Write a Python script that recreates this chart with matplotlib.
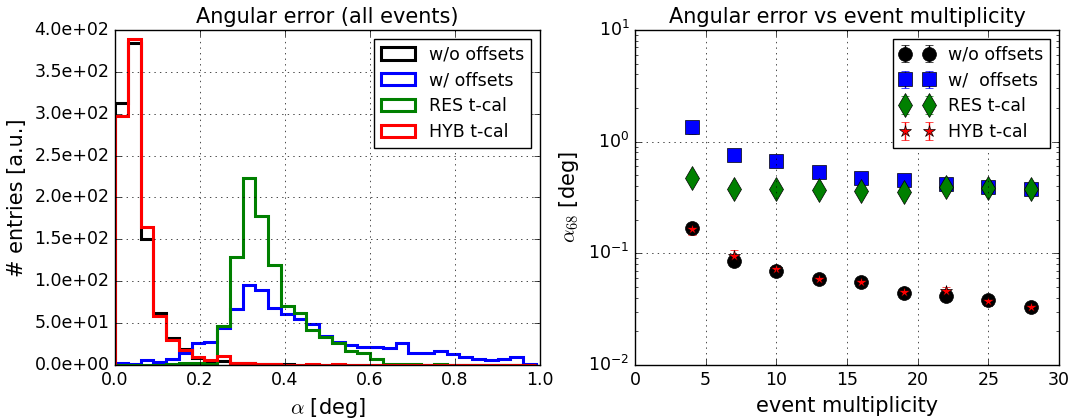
import numpy as np
import matplotlib
matplotlib.use("Agg")
import matplotlib.pyplot as plt
from matplotlib.ticker import FormatStrFormatter

plt.style.use("classic")

# ---------------- data: left histogram ----------------
bin_edges = [round(0.03 * i, 2) for i in range(34)]  # 0.00 ... 0.99
wo_offsets = [313, 385, 150, 62, 32, 19, 8, 5, 5, 2.5, 2, 1, 1, 1, 0.5, 0.5, 0.5,
              0.5, 0.5, 0.5, 0.5, 0.5, 0.5, 0.5, 0.5, 0.5, 0.5, 0.5, 0.5, 0.5, 0.5, 0.5, 0.5]
w_offsets = [2, 1.2, 6, 4, 7, 14.7, 26, 27, 43.8, 66.5, 95.5, 89.6, 67.7, 60.9, 54.5, 49,
             35, 27.9, 23.9, 21, 21.9, 19.9, 26.7, 14.7, 14, 16.7, 13, 10, 6.8, 6, 7.2, 9.2, 1.2]
res_tcal = [0.5, 0.5, 0.5, 0.5, 1, 2, 2, 1, 46, 128.6, 223.7, 178, 119.4, 70.4, 62.5, 41.8,
            33.8, 25.9, 16.7, 14, 6.8, 1.2, 1, 1, 0.5, 1, 0.5, 0.5, 0.5, 0.5, 0.5, 0.5, 0.5]
hyb_tcal = [297, 389, 165, 58, 30, 18, 9, 6, 11, 2, 2, 1, 1, 0.5, 0.5, 1, 0.5,
            1, 0.5, 0.5, 0.5, 0.5, 0.5, 0.5, 0.5, 0.5, 0.5, 0.5, 0.5, 0.5, 0.5, 0.5, 0.5]

# ---------------- data: right scatter ----------------
multiplicity = [4, 7, 10, 13, 16, 19, 22, 25, 28]
a68_wo = [0.167, 0.086, 0.0695, 0.0585, 0.0554, 0.0438, 0.0415, 0.0382, 0.0333]
a68_wo_err = [0.012, 0.006, 0.004, 0.003, 0.003, 0.003, 0.003, 0.002, 0.002]
a68_w = [1.34, 0.76, 0.67, 0.53, 0.47, 0.45, 0.42, 0.39, 0.38]
a68_w_err = [0.16, 0.03, 0.03, 0.02, 0.02, 0.02, 0.02, 0.02, 0.02]
a68_res = [0.47, 0.374, 0.374, 0.37, 0.361, 0.357, 0.395, 0.387, 0.38]
a68_res_err = [0.02, 0.015, 0.015, 0.015, 0.015, 0.015, 0.015, 0.015, 0.015]
a68_hyb = [0.166, 0.0946, 0.072, 0.0585, 0.0554, 0.0454, 0.046, 0.0374, 0.0328]
a68_hyb_err = [0.02, 0.012, 0.006, 0.005, 0.005, 0.004, 0.004, 0.003, 0.003]

W, H = 1073, 419
fig = plt.figure(figsize=(W / 100, H / 100), dpi=100, facecolor="white")

# ---------------- left panel ----------------
ax1 = fig.add_axes([115 / W, 54 / H, 425 / W, 335 / H])
edges = np.array(bin_edges)
centers = 0.5 * (edges[:-1] + edges[1:])
series = [(wo_offsets, "k", "w/o offsets"), (w_offsets, "b", "w/ offsets"),
          (res_tcal, "g", "RES t-cal"), (hyb_tcal, "r", "HYB t-cal")]
for vals, col, lab in series:
    ax1.hist(centers, bins=edges, weights=vals, histtype="step", color=col,
             linewidth=2.2, label=lab)
ax1.set_xlim(0, 1.0)
ax1.set_ylim(0, 400)
ax1.set_yticks(np.arange(0, 401, 50))
ax1.yaxis.set_major_formatter(FormatStrFormatter("%.1e"))
ax1.grid(True)
ax1.set_title("Angular error (all events)", fontsize=15)
ax1.set_xlabel(r"$\alpha$ [deg]", fontsize=15)
ax1.set_ylabel("# entries [a.u.]", fontsize=15)
ax1.tick_params(labelsize=12.5)
ax1.legend(loc="upper right", fontsize=12.5, handlelength=2.0, labelspacing=0.45,
           borderaxespad=0.5)

# ---------------- right panel ----------------
ax2 = fig.add_axes([635 / W, 54 / H, 424 / W, 335 / H])
ax2.errorbar(multiplicity, a68_wo, yerr=a68_wo_err, fmt="o", color="k", ecolor="k",
             markersize=10, label="w/o offsets")
ax2.errorbar(multiplicity, a68_w, yerr=a68_w_err, fmt="s", color="b", ecolor="b",
             markersize=10, label="w/  offsets")
ax2.errorbar(multiplicity, a68_res, yerr=a68_res_err, fmt="d", color="g", ecolor="g",
             markersize=12, label="RES t-cal")
ax2.errorbar(multiplicity, a68_hyb, yerr=a68_hyb_err, fmt="*", color="r", ecolor="r",
             markersize=9, label="HYB t-cal")
ax2.set_yscale("log")
ax2.set_xlim(0, 30)
ax2.set_ylim(1e-2, 1e1)
ax2.grid(True)
ax2.set_title("Angular error vs event multiplicity", fontsize=15)
ax2.set_xlabel("event multiplicity", fontsize=15)
ax2.set_ylabel(r"$\alpha_{68}$ [deg]", fontsize=15)
ax2.tick_params(labelsize=12.5)
ax2.legend(loc="upper right", fontsize=12.5, numpoints=2, labelspacing=0.45,
           borderaxespad=0.5)

fig.savefig("out.png", dpi=100, facecolor="white")
